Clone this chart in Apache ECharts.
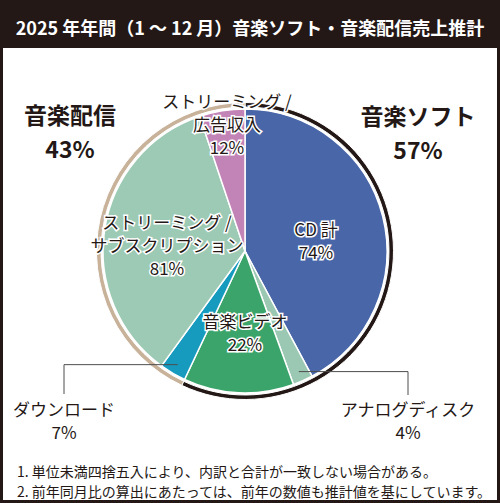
<!DOCTYPE html>
<html>
<head>
<meta charset="utf-8">
<script src="https://cdn.jsdelivr.net/npm/echarts@6/dist/echarts.min.js"></script>
<style>
  html, body { margin: 0; padding: 0; background: #fff; }
  #wrap { width: 500px; height: 503px; box-sizing: border-box; border: 3px solid #231815; position: relative; }
  #chart { position: absolute; left: -3px; top: -3px; width: 500px; height: 503px; }
</style>
</head>
<body>
<div id="wrap"><div id="chart"></div></div>
<script>
// 音楽ソフト / 音楽配信 の内訳（％）
var groupNames = ['音楽ソフト', '音楽配信'];
var groupShares = [57, 43];
var softNames = ['CD 計', 'アナログディスク', '音楽ビデオ'];
var softShares = [74, 4, 22];
var distNames = ['ダウンロード', 'ストリーミング /\nサブスクリプション', 'ストリーミング /\n広告収入'];
var distShares = [7, 81, 12];
var notes = [
    '1. 単位未満四捨五入により、内訳と合計が一致しない場合がある。',
    '2. 前年同月比の算出にあたっては、前年の数値も推計値を基にしています。'
];

var cx = 245, cy = 251, R = 142;
var FONT = '"Noto Sans CJK JP", "Noto Sans", sans-serif';
var innerColors = ['#4866a8', '#9ac8b3', '#3ba46a', '#169bbf', '#9dcab4', '#c283b6'];
var ringColors = ['#231815', '#c8b29a'];
// ラベル位置
var innerLabelPos = [[316, 240], [408, 420], [245, 332], [64, 420], [167, 244], [227, 123]];
var ringLabelPos = [[418, 132], [70, 131]];

var innerData = [], innerShares = [];
softNames.forEach(function (n, i) {
    innerData.push({name: n, value: groupShares[0] * softShares[i] / 100, itemStyle: {color: innerColors[i]}});
    innerShares.push(softShares[i]);
});
distNames.forEach(function (n, i) {
    innerData.push({name: n, value: groupShares[1] * distShares[i] / 100, itemStyle: {color: innerColors[3 + i]}});
    innerShares.push(distShares[i]);
});

// 引き出し線（ダウンロード・アナログディスク）
var total = innerData.reduce(function (s, d) { return s + d.value; }, 0);
var acc = 0, midAngles = [];
innerData.forEach(function (d) {
    midAngles.push((acc + d.value / 2) / total * 360);
    acc += d.value;
});
function leader(idx, bottomY) {
    var a = midAngles[idx] * Math.PI / 180, r = R * 0.93;
    var x0 = cx + r * Math.sin(a), y0 = cy - r * Math.cos(a);
    var lx = innerLabelPos[idx][0];
    return {
        type: 'polyline', silent: true, z: 10,
        shape: {points: [[x0, y0], [lx, y0], [lx, bottomY]]},
        style: {stroke: '#4d4d4d', lineWidth: 1, fill: null}
    };
}

var labelStyle = {
    color: '#231815', fontFamily: FONT, fontSize: 17, lineHeight: 23,
    textBorderColor: '#fff', textBorderWidth: 3, align: 'center'
};

var chart = echarts.init(document.getElementById('chart'), null, {renderer: 'svg'});
chart.setOption({
    animation: false,
    backgroundColor: '#fff',
    title: [{
        text: '2025 年年間（1 ～ 12 月）音楽ソフト・音楽配信売上推計',
        left: 'center', top: 13,
        textStyle: {color: '#fff', fontFamily: FONT, fontSize: 18, fontWeight: 'bold'}
    }, {
        text: notes.join('\n'),
        left: 12, top: 456,
        textStyle: {color: '#231815', fontFamily: FONT, fontSize: 14, fontWeight: 'normal', lineHeight: 20}
    }],
    graphic: [
        {type: 'rect', z: -1, silent: true, shape: {x: 0, y: 0, width: 500, height: 48}, style: {fill: '#231815'}},
        {type: 'rect', z: -1, silent: true, shape: {x: 1.5, y: 1.5, width: 497, height: 500}, style: {fill: null, stroke: '#231815', lineWidth: 3}},
        leader(3, 394),
        leader(1, 395)
    ],
    series: [{
        type: 'pie',
        center: [cx, cy],
        radius: [144, 148.5],
        startAngle: 90,
        avoidLabelOverlap: false,
        emphasis: {disabled: true},
        itemStyle: {borderColor: '#fff', borderWidth: 1},
        label: {
            position: 'inside',
            formatter: function (p) { return p.name + '\n' + groupShares[p.dataIndex] + '%'; },
            color: '#231815', fontFamily: FONT, fontSize: 23, fontWeight: 'bold', lineHeight: 34, align: 'center'
        },
        labelLine: {show: false},
        labelLayout: function (p) {
            var pos = ringLabelPos[p.dataIndex];
            return {x: pos[0], y: pos[1], align: 'center', verticalAlign: 'middle'};
        },
        data: groupNames.map(function (n, i) {
            return {name: n, value: groupShares[i], itemStyle: {color: ringColors[i]}};
        })
    }, {
        type: 'pie',
        center: [cx, cy],
        radius: [0, R],
        startAngle: 90,
        avoidLabelOverlap: false,
        emphasis: {disabled: true},
        itemStyle: {borderColor: '#fff', borderWidth: 1.5},
        label: Object.assign({
            position: 'inside',
            formatter: function (p) { return p.name + '\n' + innerShares[p.dataIndex] + '%'; }
        }, labelStyle),
        labelLine: {show: false},
        labelLayout: function (p) {
            var pos = innerLabelPos[p.dataIndex];
            return {x: pos[0], y: pos[1], align: 'center', verticalAlign: 'middle'};
        },
        data: innerData
    }]
});
</script>
</body>
</html>
